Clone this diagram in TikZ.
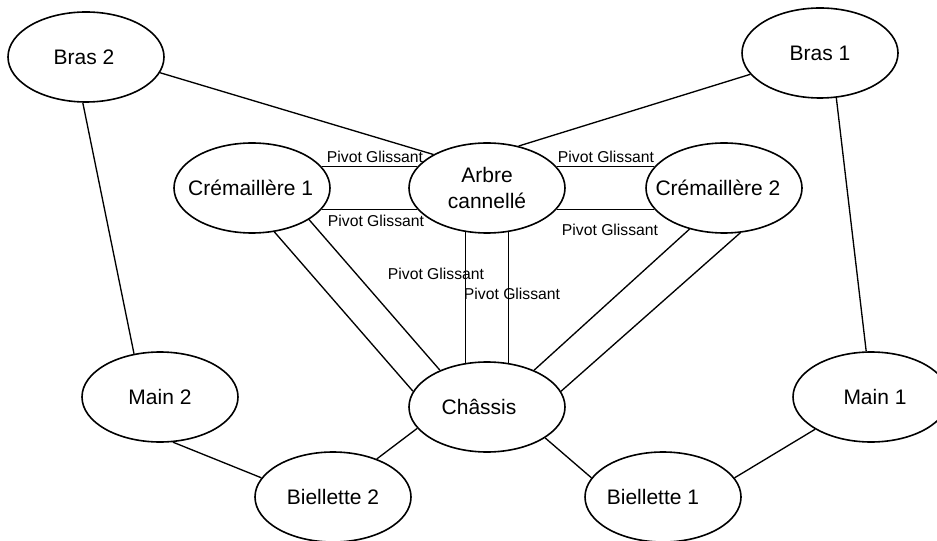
\documentclass[tikz,border=0pt]{standalone}
\usepackage{fontspec}
\setmainfont{Liberation Sans}
\usetikzlibrary{shapes.geometric}
\tikzset{
  ell/.style={draw, ellipse, line width=1.2pt, minimum width=117pt, minimum height=67.5pt, inner sep=0pt, font=\fontsize{15.75}{19}\selectfont, align=center},
  etxt/.style={inner sep=0pt, font=\fontsize{15.75}{19}\selectfont},
  conn/.style={line width=1pt},
  pg/.style={inner sep=0pt, font=\fontsize{11.8}{14}\selectfont}
}
\begin{document}
\begin{tikzpicture}[x=0.75pt,y=-0.75pt]
\useasboundingbox (0,0) rectangle (937,541);
\node[ell] (b2) at (86,57) {};
\node[etxt] (tb2) at (b2.center) [xshift=-1.5pt] {Bras 2};
\node[ell] (b1) at (820,53) {Bras 1};
\node[ell] (c1) at (252,188) {};
\node[etxt] (tc1) at (c1.center) [xshift=-1pt] {Crémaillère 1};
\node[ell] (a) at (487,188) {Arbre\\cannellé};
\node[ell] (c2) at (724,188) {};
\node[etxt] (tc2) at (c2.center) [xshift=-4.5pt] {Crémaillère 2};
\node[ell] (m2) at (160,397) {Main 2};
\node[ell] (ch) at (487,407) {};
\node[etxt] (tch) at (ch.center) [xshift=-6pt] {Châssis};
\node[ell] (m1) at (871,397) {};
\node[etxt] (tm1) at (m1.center) [xshift=3pt] {Main 1};
\node[ell] (bi2) at (333,497) {Biellette 2};
\node[ell] (bi1) at (663,497) {};
\node[etxt] (tbi1) at (bi1.center) [xshift=-7.5pt] {Biellette 1};

% connectors
\draw[conn] (b2.-12) -- (a.148);
\draw[conn] (b1.-163) -- (a.53);
\draw[conn] (b2.266) -- (m2.121);
\draw[conn] (b1.-70) -- (m1.96);
\draw[conn] (c1.17) -- (a.163);
\draw[conn] (c1.-17) -- (a.-163);
\draw[conn] (a.17) -- (c2.163);
\draw[conn] (a.-17) -- (c2.-163);
\draw[conn] (a.-64) -- (ch.64);
\draw[conn] (a.-116) -- (ch.116);
\draw[conn] (c1.-63) -- (ch.168.5);
\draw[conn] (c1.-29) -- (ch.142.5);
\draw[conn] (c2.-130) -- (ch.38);
\draw[conn] (c2.-70.5) -- (ch.12.5);
\draw[conn] (m2.-74) -- (bi2.165);
\draw[conn] (ch.197) -- (bi2.41);
\draw[conn] (ch.-28.5) -- (bi1.165.5);
\draw[conn] (m1.-150) -- (bi1.15);

% labels
\node[pg] (l1) at (375,157) {Pivot Glissant};
\node[pg] (l2) at (376,221) {Pivot Glissant};
\node[pg] (l3) at (606,157) {Pivot Glissant};
\node[pg] (l4) at (610,230) {Pivot Glissant};
\node[pg] (l5) at (436,274) {Pivot Glissant};
\node[pg] (l6) at (512,294) {Pivot Glissant};
\end{tikzpicture}
\end{document}
